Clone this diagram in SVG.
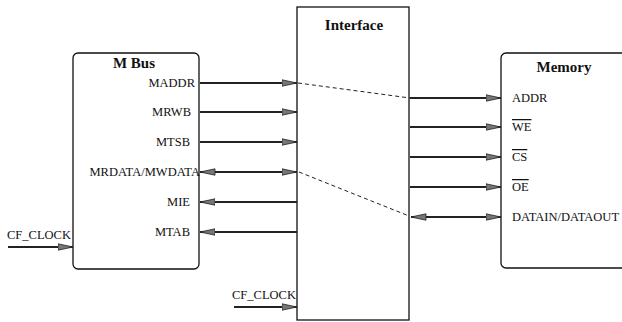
<svg xmlns="http://www.w3.org/2000/svg" width="622" height="322" viewBox="0 0 622 322">
<style>
.box{fill:#fff;stroke:#111;stroke-width:1.3}
.t{font-family:"Liberation Serif","Times New Roman",serif;font-size:12.5px;fill:#111}
.h{font-family:"Liberation Serif","Times New Roman",serif;font-size:15px;font-weight:bold;fill:#111}
.w{stroke:#222;stroke-width:1.8;fill:none}
.d{stroke:#222;stroke-width:1;fill:none;stroke-dasharray:4,3}
</style>
<defs>
<marker id="ah" markerUnits="userSpaceOnUse" markerWidth="16" markerHeight="8" refX="15" refY="4" orient="auto">
<path d="M0,0.8 L15,4 L0,7.2 Z" fill="#777" stroke="#222" stroke-width="0.8"/>
</marker>
<marker id="as" markerUnits="userSpaceOnUse" markerWidth="16" markerHeight="8" refX="0" refY="4" orient="auto">
<path d="M15,0.8 L0,4 L15,7.2 Z" fill="#777" stroke="#222" stroke-width="0.8"/>
</marker>
</defs>
<g id="mbus">
<rect class="box" x="73" y="53" width="126" height="216" rx="5"/>
<text class="h" x="134" y="68" text-anchor="middle">M Bus</text>
<text class="t" x="195" y="87" text-anchor="end">MADDR</text>
<text class="t" x="191" y="116" text-anchor="end">MRWB</text>
<text class="t" x="190" y="146" text-anchor="end">MTSB</text>
<text class="t" x="200" y="176" text-anchor="end">MRDATA/MWDATA</text>
<text class="t" x="190" y="206" text-anchor="end">MIE</text>
<text class="t" x="190" y="236" text-anchor="end">MTAB</text>
</g>
<g id="interface">
<rect class="box" x="297" y="7" width="112" height="313"/>
<text class="h" x="354" y="30" text-anchor="middle">Interface</text>
</g>
<g id="memory">
<rect class="box" x="501" y="53" width="140" height="215" rx="5"/>
<text class="h" x="564" y="72" text-anchor="middle">Memory</text>
<text class="t" x="512" y="102">ADDR</text>
<text class="t" x="512" y="131" text-decoration="overline">WE</text>
<text class="t" x="512" y="161" text-decoration="overline">CS</text>
<text class="t" x="512" y="191" text-decoration="overline">OE</text>
<text class="t" x="512" y="221">DATAIN/DATAOUT</text>
</g>
<g id="clk-labels">
<text class="t" x="7" y="239">CF_CLOCK</text>
<text class="t" x="232" y="299">CF_CLOCK</text>
</g>
<g id="connectors">
<line class="w" x1="200" y1="83" x2="297" y2="83" marker-end="url(#ah)"/>
<line class="w" x1="200" y1="112" x2="297" y2="112" marker-end="url(#ah)"/>
<line class="w" x1="200" y1="142" x2="297" y2="142" marker-end="url(#ah)"/>
<line class="w" x1="200" y1="172" x2="297" y2="172" marker-start="url(#as)" marker-end="url(#ah)"/>
<line class="w" x1="297" y1="202" x2="200" y2="202" marker-end="url(#ah)"/>
<line class="w" x1="297" y1="232" x2="200" y2="232" marker-end="url(#ah)"/>
<line class="w" x1="8" y1="247" x2="73" y2="247" marker-end="url(#ah)"/>
<line class="w" x1="234" y1="307" x2="297" y2="307" marker-end="url(#ah)"/>
<line class="w" x1="410" y1="98" x2="501" y2="98" marker-end="url(#ah)"/>
<line class="w" x1="410" y1="127" x2="501" y2="127" marker-end="url(#ah)"/>
<line class="w" x1="410" y1="157" x2="501" y2="157" marker-end="url(#ah)"/>
<line class="w" x1="410" y1="187" x2="501" y2="187" marker-end="url(#ah)"/>
<line class="w" x1="411" y1="217" x2="501" y2="217" marker-start="url(#as)" marker-end="url(#ah)"/>
<line class="d" x1="298" y1="83" x2="410" y2="98"/>
<line class="d" x1="299" y1="172" x2="409" y2="216"/>
</g>
</svg>
